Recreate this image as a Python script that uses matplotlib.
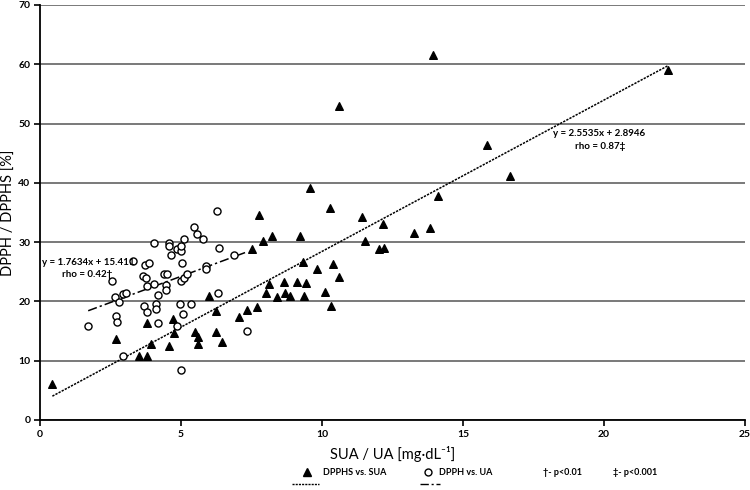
import matplotlib
matplotlib.use("Agg")
import matplotlib.pyplot as plt
from matplotlib.lines import Line2D
import numpy as np

plt.rcParams['font.family'] = ['Lato', 'DejaVu Sans']

# DPPHS vs. SUA (filled triangles)
sua_x = [0.44, 2.71, 3.52, 3.81, 3.94, 3.81, 4.59, 4.73, 4.76, 5.50, 5.61, 5.61,
         6.00, 6.23, 6.23, 6.44, 7.06, 7.35, 7.53, 7.68, 7.77, 7.92, 8.01, 8.13,
         8.22, 8.39, 8.66, 8.69, 8.87, 9.11, 9.21, 9.31, 9.37, 9.43, 9.57, 9.82,
         10.11, 10.27, 10.33, 10.38, 10.61, 10.61, 11.43, 11.51, 12.02, 12.19,
         12.18, 13.25, 13.82, 13.92, 14.12, 15.86, 16.66, 22.28]
dpphs_y = [6.0, 13.6, 10.8, 10.8, 12.9, 16.3, 12.4, 17.1, 14.6, 14.9, 14.0, 12.9,
           20.9, 18.3, 14.9, 13.2, 17.4, 18.5, 28.8, 19.0, 34.5, 30.2, 21.5, 22.9,
           31.0, 20.8, 23.2, 21.4, 20.9, 23.2, 31.1, 26.6, 20.9, 23.1, 39.2, 25.5,
           21.6, 35.7, 19.3, 26.3, 24.1, 52.95, 34.3, 30.2, 28.8, 29.0,
           33.0, 31.5, 32.3, 61.55, 37.8, 46.3, 41.1, 59.0]

# DPPH vs. UA (open circles)
ua_x = [1.71, 2.54, 2.66, 2.79, 2.70, 2.74, 2.93, 2.95, 3.05, 3.31, 3.66, 3.75,
        3.72, 3.88, 3.69, 3.78, 3.80, 4.05, 4.05, 4.11, 4.11, 4.17, 4.20, 4.40,
        4.52, 4.47, 4.47, 4.57, 4.57, 4.65, 4.87, 4.99, 4.99, 4.85, 4.96, 4.99,
        4.99, 5.02, 5.06, 5.12, 5.12, 5.22, 5.34, 5.47, 5.58, 5.79, 5.89, 5.89,
        6.27, 6.30, 6.34, 6.88, 7.35]
dpph_y = [15.9, 23.4, 20.7, 19.95, 17.5, 16.6, 10.8, 21.2, 21.4, 26.8, 24.3, 24.0,
          26.1, 26.4, 19.2, 18.2, 22.6, 22.9, 29.8, 19.6, 18.8, 21.0, 16.3, 24.6,
          24.6, 22.8, 22.0, 29.9, 29.4, 27.8, 28.8, 28.5, 29.4, 15.85, 19.6, 23.4,
          8.5, 26.4, 17.9, 23.9, 30.6, 24.6, 19.6, 32.6, 31.3, 30.6, 25.9, 25.4,
          35.3, 21.4, 28.95, 27.8, 15.0]

# regression fits as printed on the chart
fit_sua = (2.5535, 2.8946)
fit_ua = (1.7634, 15.411)

fig = plt.figure(figsize=(7.5, 4.9), dpi=100)
ax = fig.add_axes([0.0533, 0.1429, 0.94, 0.8469])

ax.set_xlim(0, 25)
ax.set_ylim(0, 70)
ax.set_xticks([0, 5, 10, 15, 20, 25])
ax.set_yticks(range(0, 71, 10))
ax.yaxis.grid(True, color='#6e6e6e', linewidth=1.3)
ax.set_axisbelow(True)
for s in ['top', 'right']:
    ax.spines[s].set_visible(False)
for s in ['left', 'bottom']:
    ax.spines[s].set_linewidth(1.3)
ax.tick_params(axis='both', direction='out', length=4, width=1.2,
               labelsize=7.5, pad=3)
for lab in ax.get_xticklabels() + ax.get_yticklabels():
    lab.set_fontweight('bold')

ax.scatter(sua_x, dpphs_y, marker='^', s=30, color='black', zorder=3)
ax.scatter(ua_x, dpph_y, marker='o', s=26, facecolors='white',
           edgecolors='black', linewidths=1.0, zorder=3)

xs = np.array([min(sua_x), max(sua_x)])
ax.plot(xs, fit_sua[0] * xs + fit_sua[1], color='black', lw=1.1,
        linestyle=(0, (1.5, 0.8)), zorder=2)
xu = np.array([min(ua_x), max(ua_x)])
ax.plot(xu, fit_ua[0] * xu + fit_ua[1], color='black', lw=1.1,
        linestyle=(0, (6, 2, 1.5, 2)), zorder=2)

ax.text(1.70, 26.6, 'y = 1.7634x + 15.411', fontsize=7, fontweight='bold',
        ha='center', va='center', zorder=4)
ax.text(1.68, 24.6, 'rho = 0.42\u2020', fontsize=7, fontweight='bold',
        ha='center', va='center', zorder=4)
ax.text(19.82, 48.3, 'y = 2.5535x + 2.8946', fontsize=7, fontweight='bold',
        ha='center', va='center')
ax.text(19.85, 46.1, 'rho = 0.87\u2021', fontsize=7, fontweight='bold',
        ha='center', va='center')

ax.set_xlabel('SUA / UA [mg\u00b7dL\u207b\u00b9]', fontsize=10.5)
ax.xaxis.set_label_coords(0.5, -0.062)
ax.set_ylabel('DPPH / DPPHS [%]', fontsize=10.5)
ax.yaxis.set_label_coords(-0.034, 0.5)

# legend row under the axes
fy = 1 - 472 / 490
fy2 = 1 - 484 / 490
fig.add_artist(Line2D([307 / 750], [fy], marker='^', markersize=5.5,
                      color='black', linestyle='none'))
fig.text(323 / 750, fy, 'DPPHS vs. SUA', fontsize=6.5, fontweight='bold', va='center')
fig.add_artist(Line2D([428 / 750], [fy], marker='o', markersize=5,
                      markerfacecolor='white', markeredgecolor='black',
                      markeredgewidth=1.0, linestyle='none'))
fig.text(439 / 750, fy, 'DPPH vs. UA', fontsize=6.5, fontweight='bold', va='center')
fig.text(543 / 750, fy, '\u2020- p<0.01', fontsize=6.5, fontweight='bold', va='center')
fig.text(613 / 750, fy, '\u2021- p<0.001', fontsize=6.5, fontweight='bold', va='center')
fig.add_artist(Line2D([292 / 750, 319 / 750], [fy2, fy2], color='black', lw=1.0,
                      linestyle=(0, (1.5, 0.8))))
fig.add_artist(Line2D([420 / 750, 440 / 750], [fy2, fy2], color='black', lw=1.0,
                      linestyle=(0, (6, 2, 1.5, 2))))

fig.savefig('out.png', dpi=100)
